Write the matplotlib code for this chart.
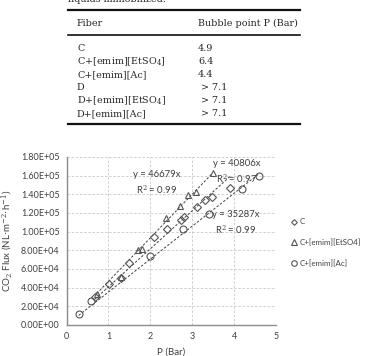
import numpy as np
import matplotlib.pyplot as plt
from matplotlib.lines import Line2D

W, H = 367, 356

# table contents
fibers = ['C', 'C+[emim][EtSO$_4$]', 'C+[emim][Ac]', 'D', 'D+[emim][EtSO$_4$]', 'D+[emim][Ac]']
bubble = ['4.9', '6.4', '4.4', ' > 7.1', ' > 7.1', ' > 7.1']

# chart data (P in bar, CO2 flux in NL m-2 h-1)
p_c = [0.68, 1.01, 1.30, 1.49, 2.09, 2.40, 2.74, 2.80, 3.11, 3.30, 3.48, 3.90]
flux_c = [30500, 44000, 50500, 66700, 94600, 103000, 113000, 116000, 126500, 133500, 137000, 147000]
p_et = [0.72, 1.29, 1.70, 1.80, 2.38, 2.70, 2.90, 3.09, 3.49]
flux_et = [32900, 51700, 80500, 81500, 114200, 127500, 139000, 142000, 163000]
p_ac = [0.29, 0.58, 2.00, 2.79, 3.40, 4.18, 4.59]
flux_ac = [11500, 26000, 74200, 102500, 119000, 146000, 160000]
slopes = {'C': 40806, 'Et': 46679, 'Ac': 35287}
r2 = {'C': 0.97, 'Et': 0.99, 'Ac': 0.99}

plt.rcParams['mathtext.fontset'] = 'custom'
plt.rcParams['mathtext.rm'] = 'DejaVu Serif'
plt.rcParams['mathtext.it'] = 'DejaVu Serif:italic'

fig = plt.figure(figsize=(W / 100, H / 100), dpi=100)


def fx(px):
    return px / W


def fy(py):
    return 1 - py / H


# ---- table on top ----
tfont = dict(family='DejaVu Serif', size=6.9, color='#262626')
# caption line, cut off at the top edge as in the source
fig.text(fx(68), fy(1.5), 'liquids immobilized.', va='baseline', ha='left', **tfont)
for y, lw in [(10, 1.6), (35, 1.2), (124, 1.6)]:
    fig.add_artist(Line2D([fx(68), fx(300)], [fy(y), fy(y)], color='#111111', lw=lw))
fig.text(fx(77), fy(26), 'Fiber', va='baseline', **tfont)
fig.text(fx(198), fy(26), 'Bubble point P (Bar)', va='baseline', **tfont)
for i, (f, b) in enumerate(zip(fibers, bubble)):
    y = 51 + i * 13
    fig.text(fx(77), fy(y), f, va='baseline', **tfont)
    fig.text(fx(198), fy(y), b, va='baseline', **tfont)

# ---- chart ----
cfont = 'Lato'
ax = fig.add_axes([fx(66.5), fy(325), fx(276) - fx(66.5), fy(157) - fy(325)])
mk = dict(mfc='none', mec='#555555', mew=0.8, ls='none')
ax.plot(p_c, flux_c, marker='D', ms=3.6, label='C', **mk)
ax.plot(p_et, flux_et, marker='^', ms=5, label='C+[emim][EtSO4]', **mk)
ax.plot(p_ac, flux_ac, marker='o', ms=5, label='C+[emim][Ac]', **mk)

for p, k in [(p_c, 'C'), (p_et, 'Et'), (p_ac, 'Ac')]:
    xs = np.array([min(p), max(p)])
    ax.plot(xs, slopes[k] * xs, color='#404040', lw=0.7, ls=(0, (2.5, 1.8)), zorder=1)

afont = dict(ha='center', va='center', fontsize=6.8, family=cfont, color='#404040', linespacing=1.4)
ax.text(2.15, 152000, 'y = %dx\nR$^2$ = %.2f' % (slopes['Et'], r2['Et']), **afont)
ax.text(4.06, 163500, 'y = %dx\nR$^2$ = %.2f' % (slopes['C'], r2['C']), **afont)
ax.text(4.03, 109000, 'y = %dx\nR$^2$ = %.2f' % (slopes['Ac'], r2['Ac']), **afont)

ax.set_xlim(0, 5)
ax.set_ylim(0, 180000)
ax.set_xticks(range(6))
ax.set_yticks(np.arange(0, 180001, 20000))
ax.set_yticklabels(['%.2E' % v for v in np.arange(0, 180001, 20000)])
ax.grid(True, ls=(0, (3, 2)), color='#c8c8c8', lw=0.6)
ax.set_axisbelow(True)
for s in ['top', 'right']:
    ax.spines[s].set_visible(False)
for s in ['left', 'bottom']:
    ax.spines[s].set_color('#8c8c8c')
    ax.spines[s].set_linewidth(1.0)
ax.tick_params(length=0, labelsize=6.5, colors='#404040', pad=5)
for lab in ax.get_xticklabels() + ax.get_yticklabels():
    lab.set_family(cfont)
ax.set_xlabel('P (Bar)', family=cfont, fontsize=7, color='#404040', labelpad=5)
ax.set_ylabel('CO$_2$ Flux (NL$\\cdot$m$^{-2}$$\\cdot$h$^{-1}$)', family=cfont, fontsize=7,
              color='#404040', labelpad=4)

leg = ax.legend(loc='center left', bbox_to_anchor=(1.06, 0.49), frameon=False,
                prop={'family': cfont, 'size': 5.7}, handlelength=0.6, handletextpad=0.35,
                labelspacing=1.7, borderaxespad=0, markerscale=0.8)
for t in leg.get_texts():
    t.set_color('#404040')

fig.savefig('out.png', dpi=100)
